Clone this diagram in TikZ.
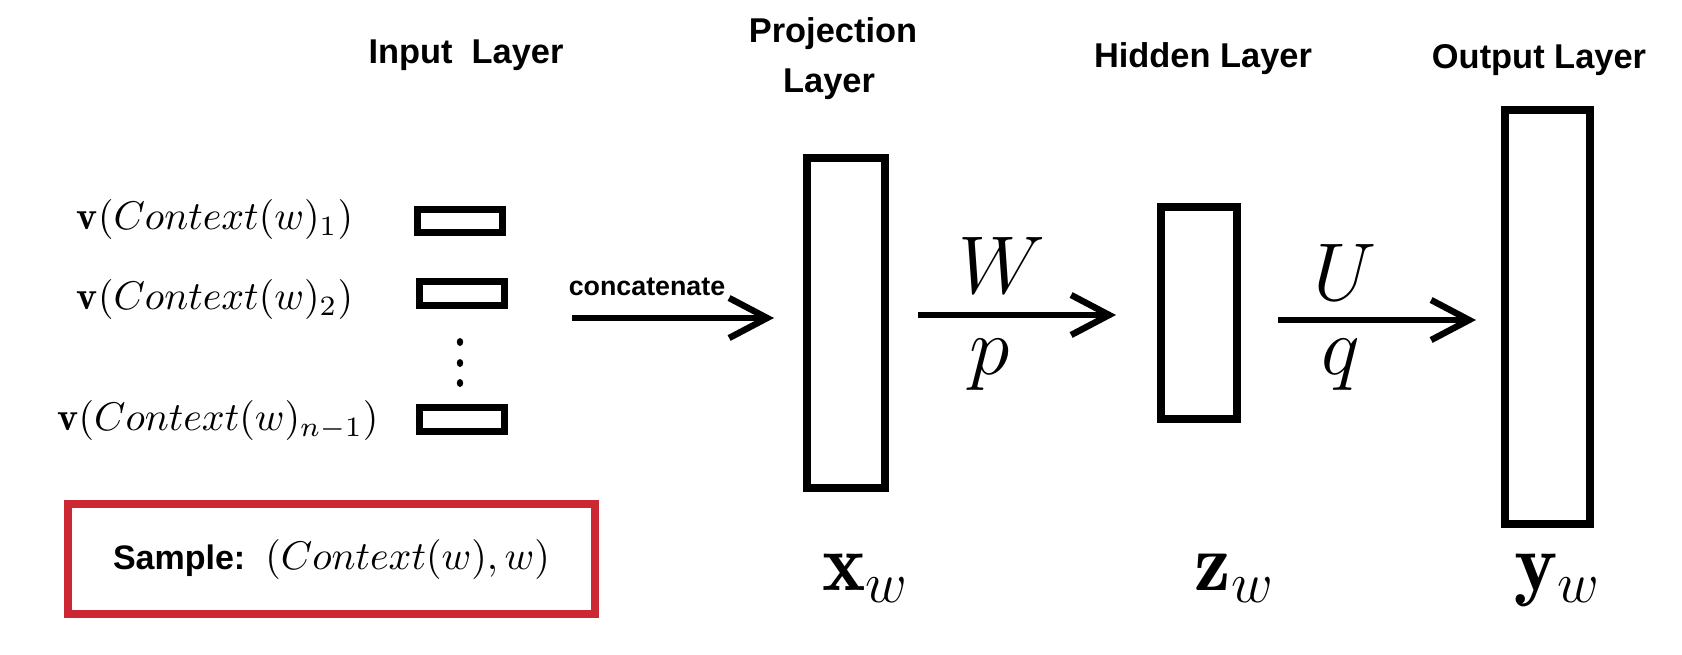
\RequirePackage{fix-cm}
\documentclass[tikz,border=0pt]{standalone}
\usepackage{fontspec}
\setsansfont{Liberation Sans}
\usetikzlibrary{arrows.meta,calc,shapes.geometric}
\definecolor{samplered}{RGB}{204,40,52}
\def\u{0.25pt}
\newcommand\headfont{\sffamily\bfseries\fontsize{8.6}{10}\selectfont}
\newcommand\catfont{\sffamily\bfseries\fontsize{6.7}{8}\selectfont}
\newcommand\samplefont{\sffamily\bfseries\fontsize{8.5}{10}\selectfont}
\newcommand\ctxfont{\fontsize{10}{12}\selectfont}
\newcommand\bigmath{\fontsize{20.5}{24}\selectfont}
\begin{document}
\begin{tikzpicture}[x=0.25pt,y=-0.25pt,
  layerbox/.style={draw, line width=2pt, inner sep=0pt},
  inbox/.style={draw, line width=1.75pt, inner sep=0pt, minimum width=85*\u, minimum height=24*\u},
  flow/.style={line width=1.5pt, -{Straight Barb[length=9.5pt,width=10pt,line width=1.6pt]}},
  head/.style={font=\headfont, inner sep=0pt, anchor=base},
  ctx/.style={font=\ctxfont, inner sep=0pt, anchor=base},
  big/.style={font=\bigmath, inner sep=0pt, anchor=base},
  dot/.style={fill, ellipse, inner sep=0pt, minimum width=1.6pt, minimum height=2pt},
  samplebox/.style={draw=samplered, line width=2pt, inner sep=0pt, minimum width=527*\u, minimum height=110*\u}
]
\fill[white] (0,0) rectangle (1682,654);
\useasboundingbox (0,0) rectangle (1682,654);

% headings
\node[head] (hin) at (466,63) {Input\ \ Layer};
\node[head] (hpr1) at (833,42) {Projection};
\node[head] (hpr2) at (829,92) {Layer};
\node[head] (hhi) at (1203,67) {Hidden Layer};
\node[head] (hout) at (1539,68) {Output Layer};

% input vectors
\node[inbox, minimum height=23*\u] (b1) at (460,221) {};
\node[inbox] (b2) at (462,293.5) {};
\node[inbox] (b3) at (462,419.5) {};
\node[ctx] (l1) at (215,229.5) {$\mathbf{v}(Context(w)_1)$};
\node[ctx] (l2) at (215,309) {$\mathbf{v}(Context(w)_2)$};
\node[ctx] (l3) at (218,430) {$\mathbf{v}(Context(w)_{n-1})$};
\foreach \yy [count=\i] in {342,363,383} \node[dot] (d\i) at (460,\yy) {};

% layers
\node[layerbox, minimum width=78*\u, minimum height=330*\u] (proj) at (846,323) {};
\node[layerbox, minimum width=76*\u, minimum height=212*\u] (hid) at (1199,313) {};
\node[layerbox, minimum width=85*\u, minimum height=414*\u] (out) at (1547.5,317) {};

% arrows
\coordinate (cstart) at (572,318);
\draw[flow, shorten >=29*\u] (cstart) -- (cstart -| proj.west);
\node[font=\catfont, inner sep=0pt, anchor=base] (cat) at (647,295) {concatenate};
\draw[flow, shorten <=29*\u, shorten >=41*\u] ($(proj.east)+(0,-8)$) -- ($(proj.east -| hid.west)+(0,-8)$);
\draw[flow, shorten <=37*\u, shorten >=25*\u] ($(hid.east)+(0,7)$) -- ($(hid.east -| out.west)+(0,7)$);
\node[big] (W) at (1002,293) {$W$};
\node[big] (p) at (990,374) {$p$};
\node[big] (U) at (1345,300) {$U$};
\node[big] (q) at (1341,374) {$q$};

% layer vectors
\node[big] (xw) at (866,590) {$\mathbf{x}_w$};
\node[big] (zw) at (1235,590) {$\mathbf{z}_w$};
\node[big] (yw) at (1558,590) {$\mathbf{y}_w$};

% sample
\node[samplebox] (sample) at (331.5,559) {{\samplefont Sample:}\hspace{5pt}{\ctxfont$(Context(w),w)$}};
\end{tikzpicture}
\end{document}
